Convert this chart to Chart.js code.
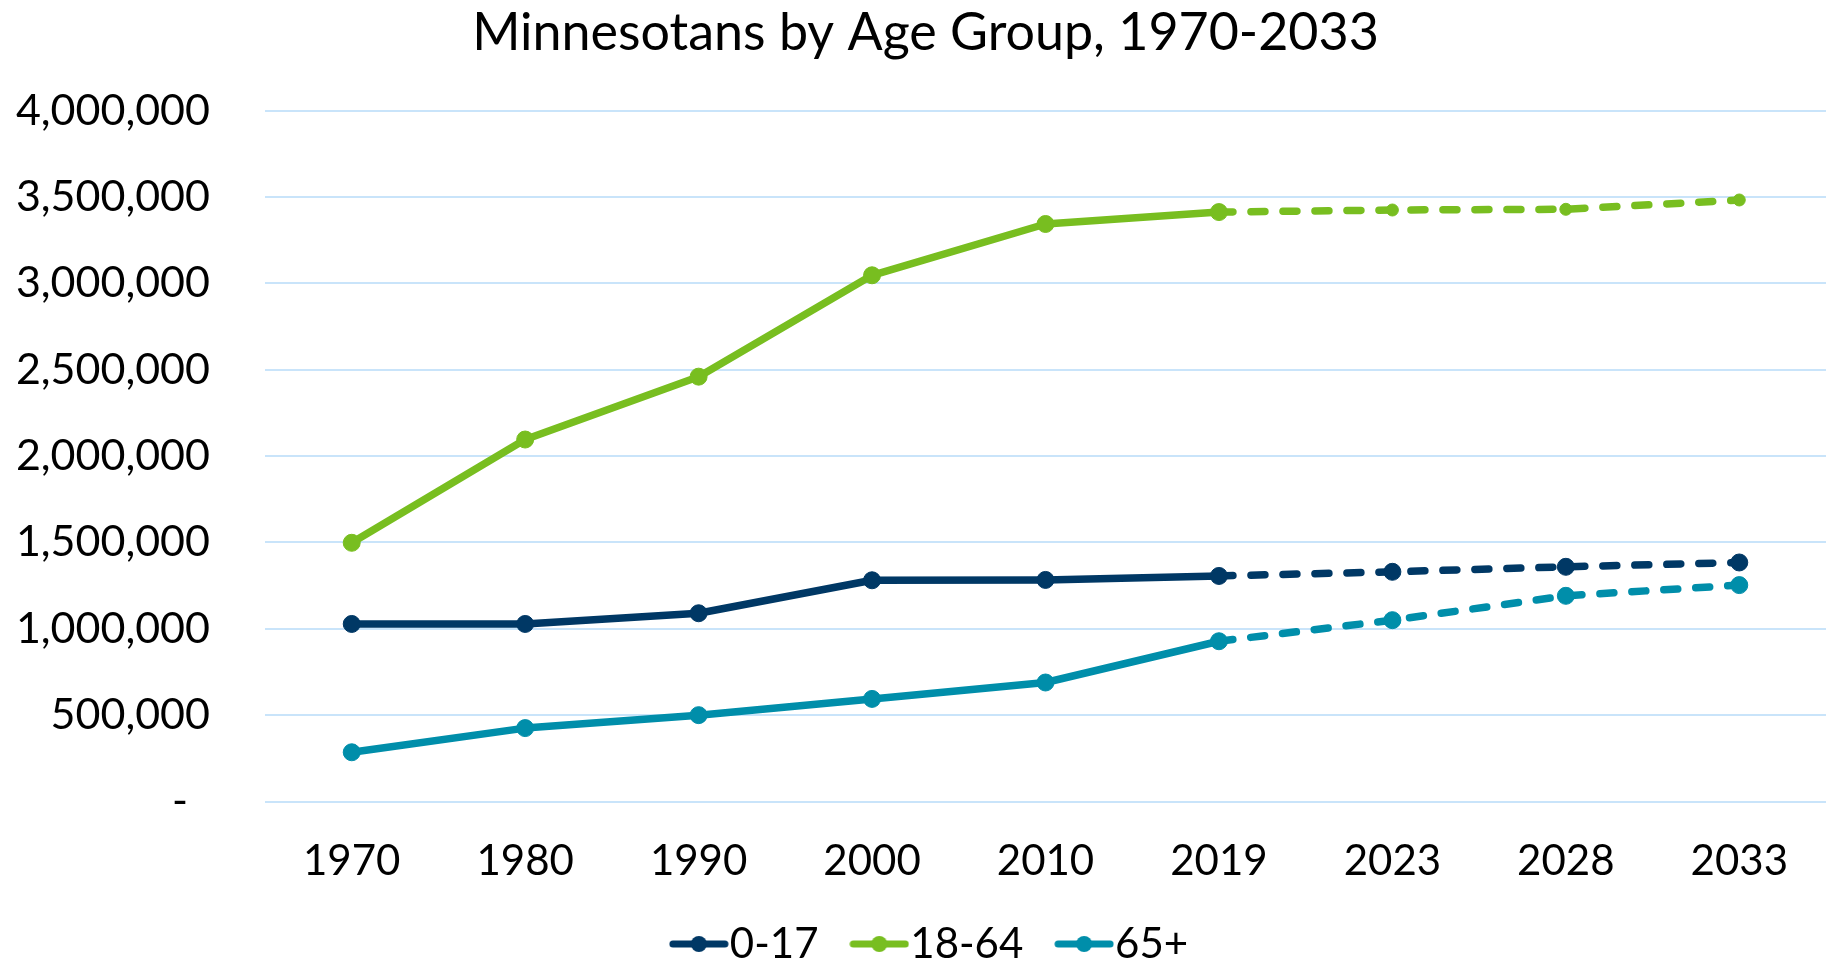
<!DOCTYPE html>
<html>
<head>
<meta charset="utf-8">
<title>Minnesotans by Age Group</title>
<script src="https://cdn.jsdelivr.net/npm/chart.js@4.4.1/dist/chart.umd.min.js"></script>
<style>
    html, body { margin: 0; padding: 0; background: #ffffff; }
    #ageChart { display: block; }
</style>
</head>
<body>
<canvas id="ageChart" width="1826" height="963"></canvas>
<script>
const years = ['1970', '1980', '1990', '2000', '2010', '2019', '2023', '2028', '2033'];
const age0to17 = [1028000, 1028000, 1090000, 1281000, 1283000, 1306000, 1330000, 1359000, 1384000];
const age18to64 = [1498000, 2096000, 2460000, 3047000, 3344000, 3413000, 3425000, 3429000, 3483000];
const age65plus = [285000, 425000, 500000, 594000, 689000, 928000, 1050000, 1191000, 1253000];
const seriesNames = ['0-17', '18-64', '65+'];
const yTicks = [0, 500000, 1000000, 1500000, 2000000, 2500000, 3000000, 3500000, 4000000];

const NAVY = '#003865';
const GREEN = '#78be20';
const TEAL = '#008eaa';
const FONT = 'Lato, "Open Sans", sans-serif';
const FIRST_PROJECTION = 5; // segments after 2019 are projections

// little line + dot picture used as legend symbol
function legendSymbol(color) {
    const c = document.createElement('canvas');
    c.width = 60;
    c.height = 20;
    const g = c.getContext('2d');
    g.strokeStyle = color;
    g.lineWidth = 7;
    g.lineCap = 'round';
    g.beginPath();
    g.moveTo(4, 10);
    g.lineTo(56, 10);
    g.stroke();
    g.fillStyle = color;
    g.beginPath();
    g.arc(30, 10, 8, 0, Math.PI * 2);
    g.fill();
    return c;
}

function makeDataset(label, data, color, futureRadius) {
    return {
        label: label,
        data: data,
        borderColor: color,
        backgroundColor: color,
        borderWidth: 7.5,
        borderCapStyle: 'round',
        borderJoinStyle: 'round',
        pointStyle: 'circle',
        pointRadius: ctx => ctx.dataIndex > FIRST_PROJECTION ? futureRadius : 8.5,
        pointBorderWidth: 1,
        pointBorderColor: color,
        pointBackgroundColor: color,
        tension: 0,
        fill: false,
        segment: {
            borderDash: ctx => ctx.p0DataIndex >= FIRST_PROJECTION ? [14, 18] : undefined
        }
    };
}

// nudge the legend a bit to the right, like the original
const legendShift = {
    id: 'legendShift',
    afterLayout(chart) {
        if (chart.legend) {
            chart.legend.left += 13;
            chart.legend.right += 13;
        }
    }
};

function load_linechart() {
    const colors = [NAVY, GREEN, TEAL];
    const symbols = colors.map(legendSymbol);
    const ctx = document.getElementById('ageChart').getContext('2d');

    new Chart(ctx, {
        type: 'line',
        data: {
            labels: years,
            datasets: [
                makeDataset(seriesNames[0], age0to17, NAVY, 8.5),
                makeDataset(seriesNames[1], age18to64, GREEN, 6),
                makeDataset(seriesNames[2], age65plus, TEAL, 8.5)
            ]
        },
        plugins: [legendShift],
        options: {
            responsive: false,
            animation: false,
            layout: {
                autoPadding: false,
                padding: { top: 0, left: 15, right: -10, bottom: -12 }
            },
            plugins: {
                title: {
                    display: true,
                    text: 'Minnesotans by Age Group, 1970-2033',
                    color: '#000000',
                    font: { family: FONT, size: 52, weight: 'normal' },
                    padding: { top: 2, bottom: 46.3 }
                },
                legend: {
                    display: true,
                    position: 'bottom',
                    labels: {
                        color: '#000000',
                        font: { family: FONT, size: 42 },
                        usePointStyle: true,
                        pointStyleWidth: 20,
                        padding: 40,
                        generateLabels: chart => {
                            const items = Chart.defaults.plugins.legend.labels.generateLabels(chart);
                            items.forEach((item, i) => {
                                item.pointStyle = symbols[i];
                                if (i < items.length - 1) item.text += ' ';
                            });
                            return items;
                        }
                    }
                },
                tooltip: { enabled: false }
            },
            scales: {
                x: {
                    offset: true,
                    grid: { display: false, drawTicks: false },
                    border: { display: false },
                    ticks: {
                        color: '#000000',
                        font: { family: FONT, size: 42 },
                        padding: 35,
                        maxRotation: 0
                    },
                    afterFit: scale => { scale.height = 81.5; }
                },
                y: {
                    min: 0,
                    max: 4000000,
                    grid: { color: '#c9e4fa', lineWidth: 2, drawTicks: false },
                    border: { display: false },
                    afterBuildTicks: scale => {
                        scale.ticks = yTicks.map(v => ({ value: v }));
                    },
                    ticks: {
                        color: '#000000',
                        font: { family: FONT, size: 43 },
                        padding: 55,
                        callback: value => value === 0 ? '-  ' : value.toLocaleString('en-US')
                    },
                    afterFit: scale => { scale.width = 250; }
                }
            }
        }
    });
}

load_linechart();
</script>
</body>
</html>
